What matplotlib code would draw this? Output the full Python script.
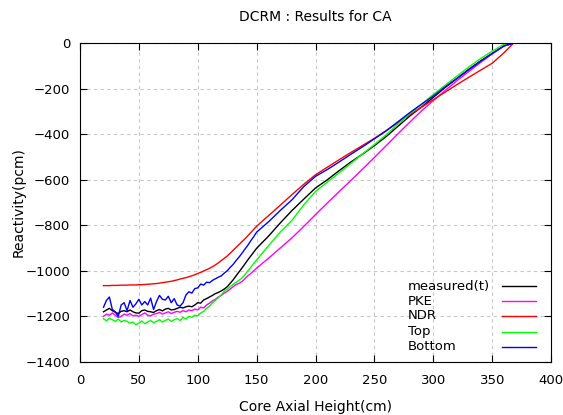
import matplotlib
matplotlib.use("Agg")
import matplotlib.pyplot as plt

# core axial height (cm): fine steps in the noisy low part, coarser above
height = [20, 22.5, 25, 27.5, 30, 32.5, 35, 37.5, 40, 42.5, 45, 47.5,
          50, 52.5, 55, 57.5, 60, 62.5, 65, 67.5, 70, 72.5, 75, 77.5,
          80, 82.5, 85, 87.5, 90, 92.5, 95, 97.5, 100, 102.5, 105, 107.5,
          110, 112.5, 115, 117.5, 120, 122.5, 125, 127.5, 130, 132.5,
          135, 137.5, 140, 142.5, 145, 147.5, 150,
          160, 170, 180, 190, 200, 210, 220, 230, 240, 250, 260, 270, 280,
          290, 300, 310, 320, 330, 340, 350, 360, 368]

measured = [-1180, -1172, -1165, -1175, -1182, -1188, -1178, -1175, -1180,
            -1172, -1180, -1185, -1186, -1175, -1172, -1178, -1180, -1183,
            -1175, -1170, -1176, -1168, -1165, -1172, -1170, -1165, -1160,
            -1163, -1158, -1155, -1158, -1150, -1140, -1142, -1128, -1122,
            -1115, -1108, -1100, -1095, -1088, -1080, -1070, -1055, -1040,
            -1022, -1005, -988, -970, -952, -935, -918, -901,
            -848, -790, -735, -685, -636, -600, -560, -522, -487, -450,
            -410, -365, -320, -280, -238, -195, -155, -115, -78, -45, -12, 0]

pke = [-1200, -1190, -1195, -1185, -1195, -1205, -1200, -1190, -1195,
       -1188, -1198, -1195, -1200, -1192, -1185, -1195, -1198, -1190,
       -1188, -1182, -1190, -1185, -1180, -1188, -1182, -1178, -1182,
       -1175, -1180, -1172, -1175, -1168, -1172, -1160, -1163, -1150,
       -1142, -1132, -1125, -1115, -1108, -1098, -1090, -1080, -1070,
       -1060, -1055, -1047, -1035, -1022, -1012, -1000, -988,
       -945, -900, -855, -805, -753, -702, -652, -603, -553, -502,
       -450, -398, -347, -297, -252, -208, -165, -125, -85, -47, -12, 0]

ndr = [-1065, -1065, -1065, -1064, -1064, -1064, -1063, -1063, -1063,
       -1062, -1062, -1062, -1061, -1061, -1060, -1059, -1058, -1057,
       -1056, -1054, -1052, -1050, -1048, -1046, -1043, -1040, -1036,
       -1033, -1030, -1026, -1022, -1017, -1012, -1007, -1001, -995,
       -989, -982, -974, -965, -955, -945, -935, -923, -910,
       -897, -885, -872, -860, -846, -832, -818, -804,
       -758, -712, -665, -620, -578, -545, -512, -480, -449, -418,
       -384, -349, -314, -281, -248, -215, -182, -150, -119, -88, -42, 0]

top = [-1210, -1220, -1208, -1215, -1222, -1212, -1225, -1218, -1222,
       -1230, -1225, -1237, -1230, -1220, -1232, -1225, -1218, -1228,
       -1222, -1215, -1225, -1218, -1212, -1222, -1215, -1210, -1218,
       -1205, -1212, -1200, -1205, -1195, -1198, -1185, -1178, -1165,
       -1155, -1140, -1130, -1118, -1105, -1090, -1080, -1070, -1060,
       -1050, -1042, -1032, -1018, -1000, -985, -968, -952,
       -890, -830, -778, -710, -651, -610, -570, -528, -486, -445,
       -402, -355, -310, -268, -225, -185, -145, -105, -68, -35, -5, 0]

bottom = [-1160, -1130, -1115, -1170, -1180, -1200, -1150, -1140, -1175,
          -1130, -1160, -1145, -1125, -1150, -1135, -1150, -1120, -1170,
          -1135, -1108, -1125, -1128, -1112, -1140, -1122, -1150, -1155,
          -1140, -1106, -1092, -1098, -1078, -1075, -1058, -1063, -1050,
          -1052, -1042, -1035, -1028, -1022, -1010, -1000, -985, -972,
          -955, -940, -923, -905, -888, -868, -850, -830,
          -785, -735, -688, -630, -585, -555, -522, -488, -455, -420,
          -385, -345, -305, -268, -232, -192, -155, -117, -80, -45, -12, 0]

labels = ["measured(t)", "PKE", "NDR", "Top", "Bottom"]
colors = ["black", "#ff00ff", "red", "#00ff00", "blue"]


def main():
    fig = plt.figure(figsize=(5.63, 4.15), dpi=100)
    ax = fig.add_axes([0.142, 0.128, 0.837, 0.768])

    all_series = [measured, pke, ndr, top, bottom]
    for values, color in zip(all_series, colors):
        ax.plot(height, values, color=color, linewidth=1.0)

    ax.set_xlim(0, 400)
    ax.set_ylim(-1400, 0)
    ax.set_xticks(range(0, 401, 50))
    ax.set_yticks(range(-1400, 1, 200))
    ax.grid(True, linestyle=(0, (3, 3)), color="#c8c8c8", linewidth=0.8)
    ax.tick_params(direction="in", top=True, right=True, length=5,
                   labelsize=9.5)
    ax.tick_params(axis="x", pad=9)
    ax.tick_params(axis="y", pad=7)

    ax.set_title("DCRM : Results for CA", fontsize=10, pad=16)
    ax.set_xlabel("Core Axial Height(cm)", fontsize=10, labelpad=9)
    ax.set_ylabel("Reactivity(pcm)", fontsize=10, labelpad=0)

    # gnuplot style key: label on the left, line sample on the right
    key_y = [0.238, 0.191, 0.144, 0.094, 0.047]
    for label, color, ky in zip(labels, colors, key_y):
        ax.text(0.696, ky, label, transform=ax.transAxes, fontsize=9.5,
                va="center", ha="left")
        ax.plot([0.896, 0.968], [ky, ky], transform=ax.transAxes,
                color=color, linewidth=1.0)

    fig.savefig("out.png", dpi=100)


if __name__ == "__main__":
    main()
